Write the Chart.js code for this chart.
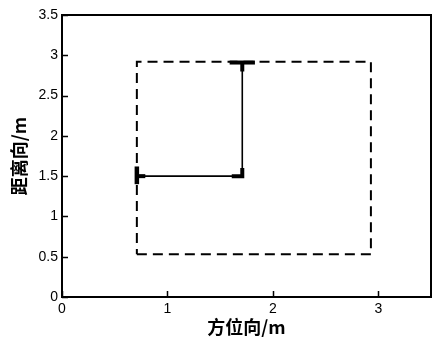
<!DOCTYPE html>
<html>
<head>
<meta charset="utf-8">
<script src="https://cdn.jsdelivr.net/npm/chart.js@4/dist/chart.umd.min.js"></script>
<style>
html,body{margin:0;padding:0;background:#fff;}
#wrap{width:432px;height:344px;position:relative;}
</style>
</head>
<body>
<div id="wrap"><canvas id="c"></canvas></div>
<script>
// Dashed rectangle (planned area)
const rectX = [0.71, 2.93, 2.93, 0.71, 0.71];
const rectY = [0.53, 0.53, 2.92, 2.92, 0.53];
// Solid trajectory
const pathX = [0.72, 1.71, 1.71];
const pathY = [1.5, 1.5, 2.91];
// Thick marker segments
const mark1X = [0.71, 0.71];
const mark1Y = [1.40, 1.62];
const mark2X = [0.71, 0.79];
const mark2Y = [1.5, 1.5];
const mark3X = [1.61, 1.71, 1.71];
const mark3Y = [1.5, 1.5, 1.6];
const mark4X = [1.59, 1.83];
const mark4Y = [2.91, 2.91];
const mark5X = [1.71, 1.71];
const mark5Y = [2.91, 2.80];
// Ticks
const xTicks = [0, 1, 2, 3];
const yTicks = [0, 0.5, 1, 1.5, 2, 2.5, 3, 3.5];
const xTitle = '方位向/m';
const yTitle = '距离向/m';

const pts = (xs, ys) => xs.map((x, i) => ({x: x, y: ys[i]}));

const frame = {
  id: 'frame',
  afterDraw(chart) {
    const a = chart.chartArea, ctx = chart.ctx;
    ctx.save();
    ctx.strokeStyle = '#000';
    ctx.lineWidth = 2;
    ctx.strokeRect(a.left, a.top, a.right - a.left, a.bottom - a.top);
    // inward tick marks at the scale's own tick positions
    ctx.lineWidth = 1.5;
    const xs = chart.scales.x, ys = chart.scales.y;
    ctx.beginPath();
    xs.ticks.forEach(t => {
      const p = Math.round(xs.getPixelForValue(t.value)) + 0.5;
      ctx.moveTo(p, a.bottom); ctx.lineTo(p, a.bottom - 6);
    });
    ys.ticks.forEach(t => {
      const p = Math.round(ys.getPixelForValue(t.value)) + 0.5;
      ctx.moveTo(a.left, p); ctx.lineTo(a.left + 6, p);
    });
    ctx.stroke();
    ctx.restore();
  }
};

const segStyle = (w, dash) => ({
  showLine: true, borderColor: '#000', backgroundColor: '#000',
  borderWidth: w, pointRadius: 0, borderDash: dash || [], tension: 0,
  borderCapStyle: 'butt', borderJoinStyle: 'miter'
});

new Chart(document.getElementById('c'), {
  type: 'scatter',
  data: {
    datasets: [
      Object.assign({data: pts(rectX, rectY)}, segStyle(2, [10, 6])),
      Object.assign({data: pts(pathX, pathY)}, segStyle(1.6)),
      Object.assign({data: pts(mark1X, mark1Y)}, segStyle(4.5)),
      Object.assign({data: pts(mark2X, mark2Y)}, segStyle(4)),
      Object.assign({data: pts(mark3X, mark3Y)}, segStyle(4)),
      Object.assign({data: pts(mark4X, mark4Y)}, segStyle(4)),
      Object.assign({data: pts(mark5X, mark5Y)}, segStyle(4))
    ]
  },
  options: {
    responsive: true,
    maintainAspectRatio: false,
    animation: false,
    layout: {padding: {top: 15, right: 1, left: 0, bottom: 0}},
    plugins: {legend: {display: false}, tooltip: {enabled: false}},
    scales: {
      x: {
        type: 'linear', min: 0, max: 3.5,
        afterBuildTicks: s => { s.ticks = xTicks.map(v => ({value: v})); },
        afterFit: s => { s.height = 47; },
        ticks: {color: '#000', font: {family: "'Liberation Sans', Arial", size: 14}, padding: 4, maxRotation: 0,
          callback: v => String(v)},
        grid: {drawOnChartArea: false, drawTicks: false},
        border: {display: true, color: '#000', width: 2},
        title: {display: true, text: xTitle, color: '#000',
          font: {family: "'Noto Sans CJK SC'", size: 18, weight: 'bold'}, padding: {top: 0, bottom: 6}}
      },
      y: {
        type: 'linear', min: 0, max: 3.5,
        afterBuildTicks: s => { s.ticks = yTicks.map(v => ({value: v})); },
        afterFit: s => { s.width = 62; },
        ticks: {color: '#000', font: {family: "'Liberation Sans', Arial", size: 14}, padding: 4,
          callback: v => String(v)},
        grid: {drawOnChartArea: false, drawTicks: false},
        border: {display: true, color: '#000', width: 2},
        title: {display: true, text: yTitle, color: '#000',
          font: {family: "'Noto Sans CJK SC'", size: 18, weight: 'bold'}, padding: {top: 8, bottom: 0}}
      }
    }
  },
  plugins: [frame]
});
</script>
</body>
</html>
